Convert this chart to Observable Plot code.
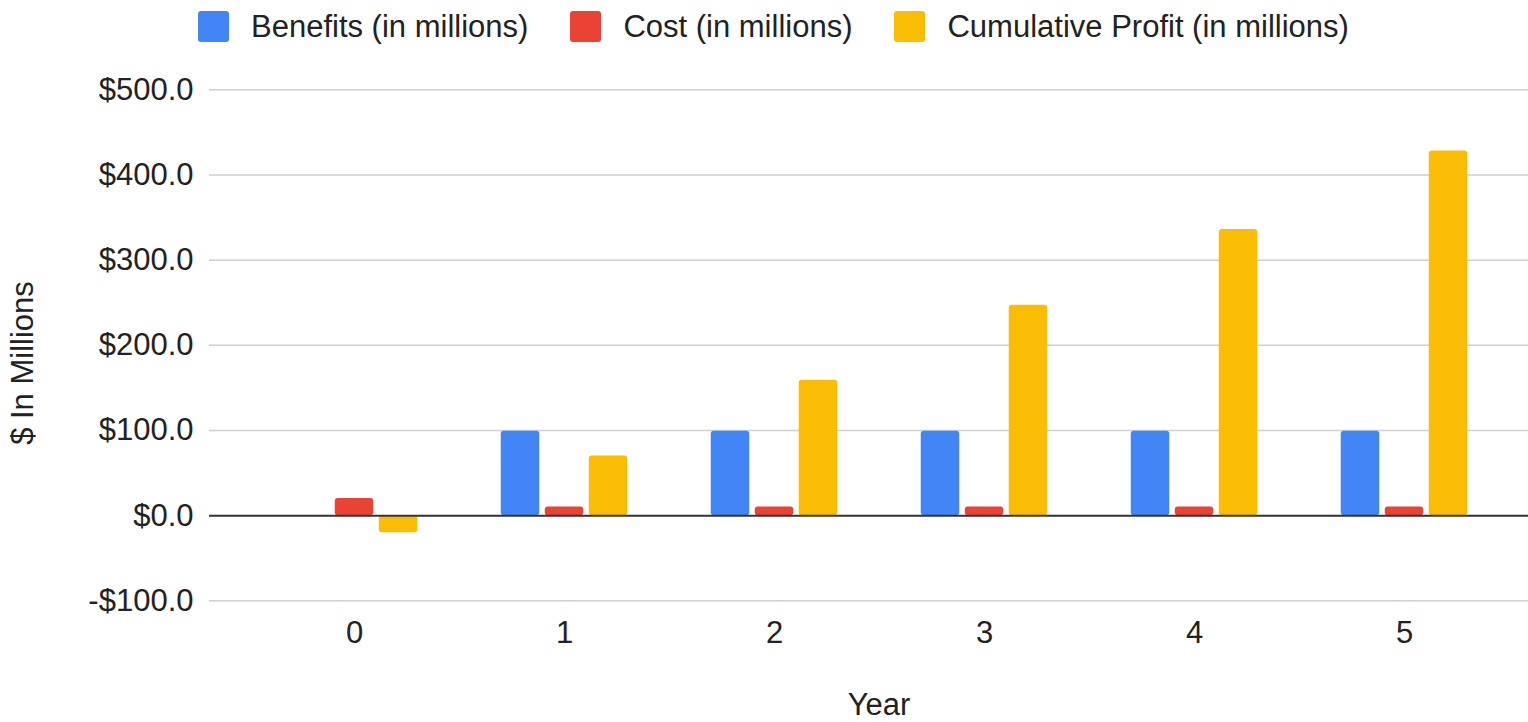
<!DOCTYPE html>
<html>
<head>
<meta charset="utf-8">
<script src="https://cdn.jsdelivr.net/npm/d3@7"></script>
<script src="https://cdn.jsdelivr.net/npm/@observablehq/plot@0.6"></script>
<style>
  html, body { margin: 0; padding: 0; background: #fff; }
  body { width: 1528px; height: 722px; overflow: hidden; font-family: "Liberation Sans", Arial, Helvetica, sans-serif; }
  #legend { position: relative; height: 52px; display: flex; align-items: center; padding-left: 198px; gap: 42px; box-sizing: border-box; }
  .item { display: flex; align-items: center; }
  .sw { width: 31px; height: 31px; border-radius: 3px; margin-right: 22px; }
  .lab { font-size: 31px; color: #222; line-height: 31px; }
</style>
</head>
<body>
<div id="legend"></div>
<div id="chart"></div>
<script>
const years = ["0", "1", "2", "3", "4", "5"];
const benefits = [0, 99, 99, 99, 99, 99];
const cost = [20, 10, 10, 10, 10, 10];
const cumulativeProfit = [-20, 70, 159, 247, 336, 428];
const seriesNames = ["Benefits (in millions)", "Cost (in millions)", "Cumulative Profit (in millions)"];
const seriesColors = ["#4285F4", "#EA4335", "#FBBC04"];
const yTicks = [-100, 0, 100, 200, 300, 400, 500];
const xLabel = "Year";
const yLabel = "$ In Millions";

const rows = years.map((year, i) => ({year, benefits: benefits[i], cost: cost[i], profit: cumulativeProfit[i]}));

// legend
const legend = document.getElementById("legend");
seriesNames.forEach((name, i) => {
  const it = document.createElement("div");
  it.className = "item";
  it.innerHTML = `<div class="sw" style="background:${seriesColors[i]}"></div><span class="lab">${name}</span>`;
  legend.appendChild(it);
});

const fmt = d => (d < 0 ? "-" : "") + "$" + Math.abs(d).toFixed(1);
const band = 210, barW = 38.5, offs = [-44, 0, 44];
const ins = k => ({insetLeft: band / 2 + offs[k] - barW / 2, insetRight: band / 2 - offs[k] - barW / 2});

const chart = Plot.plot({
  width: 1528,
  height: 670,
  marginLeft: 248.5,
  marginRight: 19.5,
  marginTop: 37.3,
  marginBottom: 121.7,
  style: {fontSize: "31px", fontFamily: "'Liberation Sans', Arial, Helvetica, sans-serif", color: "#222", background: "#fff"},
  x: {domain: years, padding: 0, tickSize: 0, tickPadding: 20, label: null},
  y: {domain: [-100, 500], ticks: yTicks, tickFormat: fmt, tickSize: 0, tickPadding: 55.5, label: null},
  marks: [
    Plot.ruleY(yTicks.filter(d => d !== 0), {stroke: "#cfcfcf", strokeWidth: 1.5, insetLeft: -39.5, insetRight: -19.5}),
    Plot.barY(rows, {x: "year", y: "benefits", fill: seriesColors[0], rx: 3, ...ins(0)}),
    Plot.barY(rows, {x: "year", y: "cost", fill: seriesColors[1], rx: 3, ...ins(1)}),
    Plot.barY(rows, {x: "year", y: "profit", fill: seriesColors[2], rx: 3, ...ins(2)}),
    Plot.ruleY([0], {stroke: "#333", strokeWidth: 2, insetLeft: -39.5, insetRight: -19.5}),
    Plot.text([xLabel], {frameAnchor: "bottom", lineAnchor: "middle", dy: 104.5, fill: "#222"}),
    Plot.text([yLabel], {frameAnchor: "left", lineAnchor: "middle", textAnchor: "middle", rotate: -90, dx: -225.5, dy: 17.7, fill: "#222"})
  ]
});
document.getElementById("chart").appendChild(chart);
</script>
</body>
</html>
